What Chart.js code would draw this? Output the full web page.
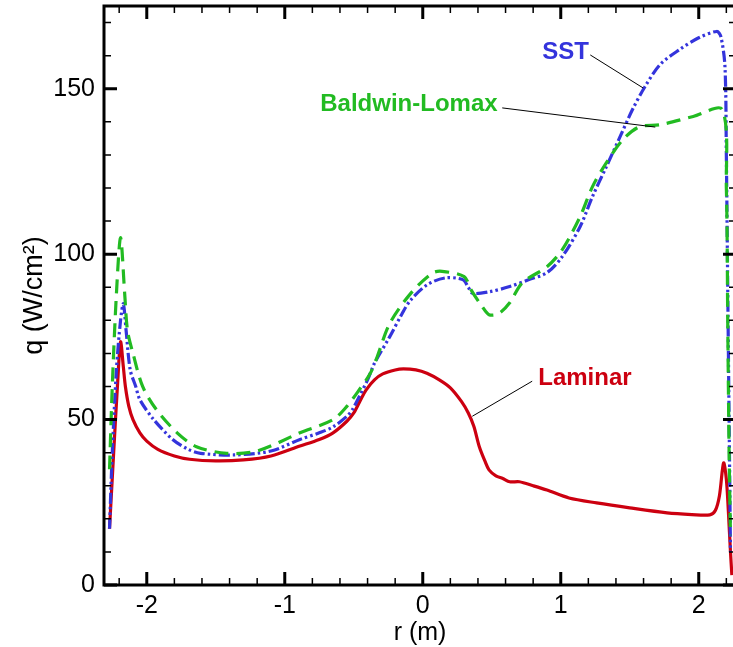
<!DOCTYPE html>
<html><head><meta charset="utf-8">
<script src="https://cdn.jsdelivr.net/npm/chart.js@4"></script>
<style>html,body{margin:0;padding:0;background:#fff;overflow:hidden;}
#wrap{width:740px;height:647px;}
</style></head><body><div id="wrap"><canvas id="c" width="740" height="647"></canvas></div>
<script>
// ---- data ----
const laminarR = [-2.27,-2.24,-2.21,-2.19,-2.17,-2.155,-2.13,-2.10,-2.05,-2.00,-1.92,-1.80,-1.69,-1.50,-1.30,-1.10,-0.89,-0.75,-0.65,-0.55,-0.50,-0.45,-0.41,-0.35,-0.29,-0.20,-0.14,-0.05,0.03,0.12,0.20,0.28,0.33,0.37,0.41,0.45,0.48,0.53,0.58,0.63,0.70,0.80,0.90,1.06,1.26,1.50,1.77,1.95,2.08,2.12,2.15,2.18,2.20,2.215,2.23,2.24];
const laminarQ = [17,40,62,73.5,66,60,54,50,46,43.5,41,39,38,37.5,37.8,39,42,44,46,49.5,52,56,59,62,63.8,65,65.3,65,64,62,59.6,55.5,52,48,41.8,37.5,34.8,33,32.2,31.2,31.2,30,28.7,26.3,24.8,23.3,21.8,21.3,21.2,22.5,27,36.9,32,22,10,3];

const sstR = [-2.27,-2.25,-2.22,-2.19,-2.17,-2.15,-2.12,-2.08,-2.05,-1.95,-1.81,-1.70,-1.61,-1.37,-1.10,-0.89,-0.75,-0.65,-0.55,-0.51,-0.46,-0.40,-0.35,-0.24,-0.15,-0.09,0.03,0.16,0.29,0.33,0.36,0.48,0.63,0.77,0.90,1.01,1.14,1.23,1.33,1.43,1.52,1.61,1.72,1.86,2.00,2.13,2.16,2.19,2.20,2.21,2.22,2.23];
const sstQ = [17,40,65,80,85,77,65,60,56,50,43.9,41,39.8,39.3,40.5,44,46,47.8,51,53,57,62,67,75,82,86,90.7,92.8,92.3,90,88.2,88.6,90.2,92.3,94.4,99.2,108.3,117.4,126.4,135.5,143.7,150.6,157.3,161.8,165.4,167.3,165.8,156.7,130,90,50,10];

const blR = [-2.27,-2.25,-2.22,-2.19,-2.16,-2.14,-2.10,-2.03,-1.93,-1.78,-1.64,-1.42,-1.20,-0.89,-0.65,-0.55,-0.46,-0.38,-0.33,-0.24,-0.09,0.07,0.14,0.30,0.35,0.43,0.48,0.55,0.63,0.72,0.90,1.01,1.14,1.23,1.33,1.45,1.57,1.72,1.96,2.17,2.20,2.21,2.22,2.23];
const blQ = [35,60,88,105,88,77,70,60,53,46,41.8,39.8,40.5,46,50,54,59,64,69,79,88,94.3,94.8,93.2,89.2,84.2,81.7,82,85.3,91.3,96.2,101.3,111.3,120.4,127.6,134.6,138.5,139.1,141.6,143.7,120,80,40,15];

const xTickValues = [-2,-1,0,1,2];
const yTickValues = [0,50,100,150];
const seriesNames = ['Baldwin-Lomax','SST','Laminar'];

// ---- styling ----
const COL = {red:'#cc0010', blue:'#3434dc', green:'#22bb22'};
const FONT = 'Liberation Sans, Arial, Helvetica, sans-serif';

function pts(xs, ys){ return xs.map((x,i)=>({x:x,y:ys[i]})); }

// annotation labels: [text, color, labelX, labelY, fromX, fromY, toX, toY] in data units
const notes = [
  ['SST', COL.blue, 0.866, 161, 1.214, 160.2, 1.598, 150.2],
  ['Baldwin-Lomax', COL.green, -0.743, 145.4, 0.576, 144.2, 1.685, 138.4],
  ['Laminar', COL.red, 0.837, 62.6, 0.793, 61.6, 0.359, 51]
];

const framePlugin = {
  id:'frame',
  afterDatasetsDraw(chart){
    const {ctx, chartArea:a, scales:{x, y}} = chart;
    ctx.save();
    ctx.lineWidth = 1; ctx.strokeStyle = '#000';
    notes.forEach(n=>{
      ctx.beginPath();
      ctx.moveTo(x.getPixelForValue(n[4]), y.getPixelForValue(n[5]));
      ctx.lineTo(x.getPixelForValue(n[6]), y.getPixelForValue(n[7]));
      ctx.stroke();
      ctx.fillStyle = n[1];
      ctx.font = 'bold 24px ' + FONT;
      ctx.textAlign = 'left'; ctx.textBaseline = 'middle';
      ctx.fillText(n[0], x.getPixelForValue(n[2]), y.getPixelForValue(n[3]));
    });
    ctx.strokeStyle = '#000';
    for (let i=-11;i<=11;i++){
      const v = i/5, major = (i%5===0);
      const px = x.getPixelForValue(v);
      if (px < a.left || px > a.right) continue;
      const L = major ? 13 : 7;
      ctx.lineWidth = major ? 3 : 1.5;
      ctx.beginPath();
      ctx.moveTo(px, a.bottom); ctx.lineTo(px, a.bottom - L);
      ctx.moveTo(px, a.top); ctx.lineTo(px, a.top + L);
      ctx.stroke();
    }
    for (let v=0; v<=170; v+=10){
      const major = (v%50===0);
      const py = y.getPixelForValue(v);
      const L = major ? 13 : 7;
      ctx.lineWidth = major ? 3 : 1.5;
      ctx.beginPath();
      ctx.moveTo(a.left, py); ctx.lineTo(a.left + L, py);
      ctx.moveTo(a.right, py); ctx.lineTo(a.right - L, py);
      ctx.stroke();
    }
    ctx.lineWidth = 3;
    ctx.strokeRect(a.left, a.top, a.right - a.left, a.bottom - a.top);
    ctx.restore();
  }
};

new Chart(document.getElementById('c'), {
  type:'scatter',
  data:{datasets:[
    {label:seriesNames[0], data:pts(blR, blQ), showLine:true, borderColor:COL.green, borderWidth:3.2, borderDash:[14,8], pointRadius:0, tension:0.3, fill:false},
    {label:seriesNames[1], data:pts(sstR, sstQ), showLine:true, borderColor:COL.blue, borderWidth:3.2, borderDash:[11,3,2.5,3,2.5,3], pointRadius:0, tension:0.3, fill:false},
    {label:seriesNames[2], data:pts(laminarR, laminarQ), showLine:true, borderColor:COL.red, borderWidth:3.2, pointRadius:0, tension:0.3, fill:false}
  ]},
  options:{
    responsive:false, animation:false, devicePixelRatio:1,
    layout:{padding:{top:6, right:4, left:0, bottom:0}},
    plugins:{legend:{display:false}, tooltip:{enabled:false}},
    scales:{
      x:{type:'linear', min:-2.31, max:2.27,
        afterFit(s){ s.height = 62; s.paddingLeft = 0; s.paddingRight = 0; },
        afterBuildTicks(s){ s.ticks = xTickValues.map(v=>({value:v})); },
        grid:{display:false, drawTicks:false}, border:{display:false},
        ticks:{font:{family:FONT, size:25}, color:'#000', padding:6, maxRotation:0, autoSkip:false, callback:v=>String(v)},
        title:{display:true, text:'r (m)', color:'#000', font:{family:FONT, size:25, lineHeight:1}, padding:{top:0, bottom:1}}
      },
      y:{type:'linear', min:0, max:175,
        afterFit(s){ s.width = 104; s.paddingTop = 0; s.paddingBottom = 0; },
        afterBuildTicks(s){ s.ticks = yTickValues.map(v=>({value:v})); },
        grid:{display:false, drawTicks:false}, border:{display:false},
        ticks:{font:{family:FONT, size:25}, color:'#000', padding:9, autoSkip:false, callback:v=>String(v)},
        title:{display:true, text:'q (W/cm²)', color:'#000', font:{family:FONT, size:27, lineHeight:1}, padding:{top:21, bottom:0}}
      }
    }
  },
  plugins:[framePlugin]
});
</script></body></html>
